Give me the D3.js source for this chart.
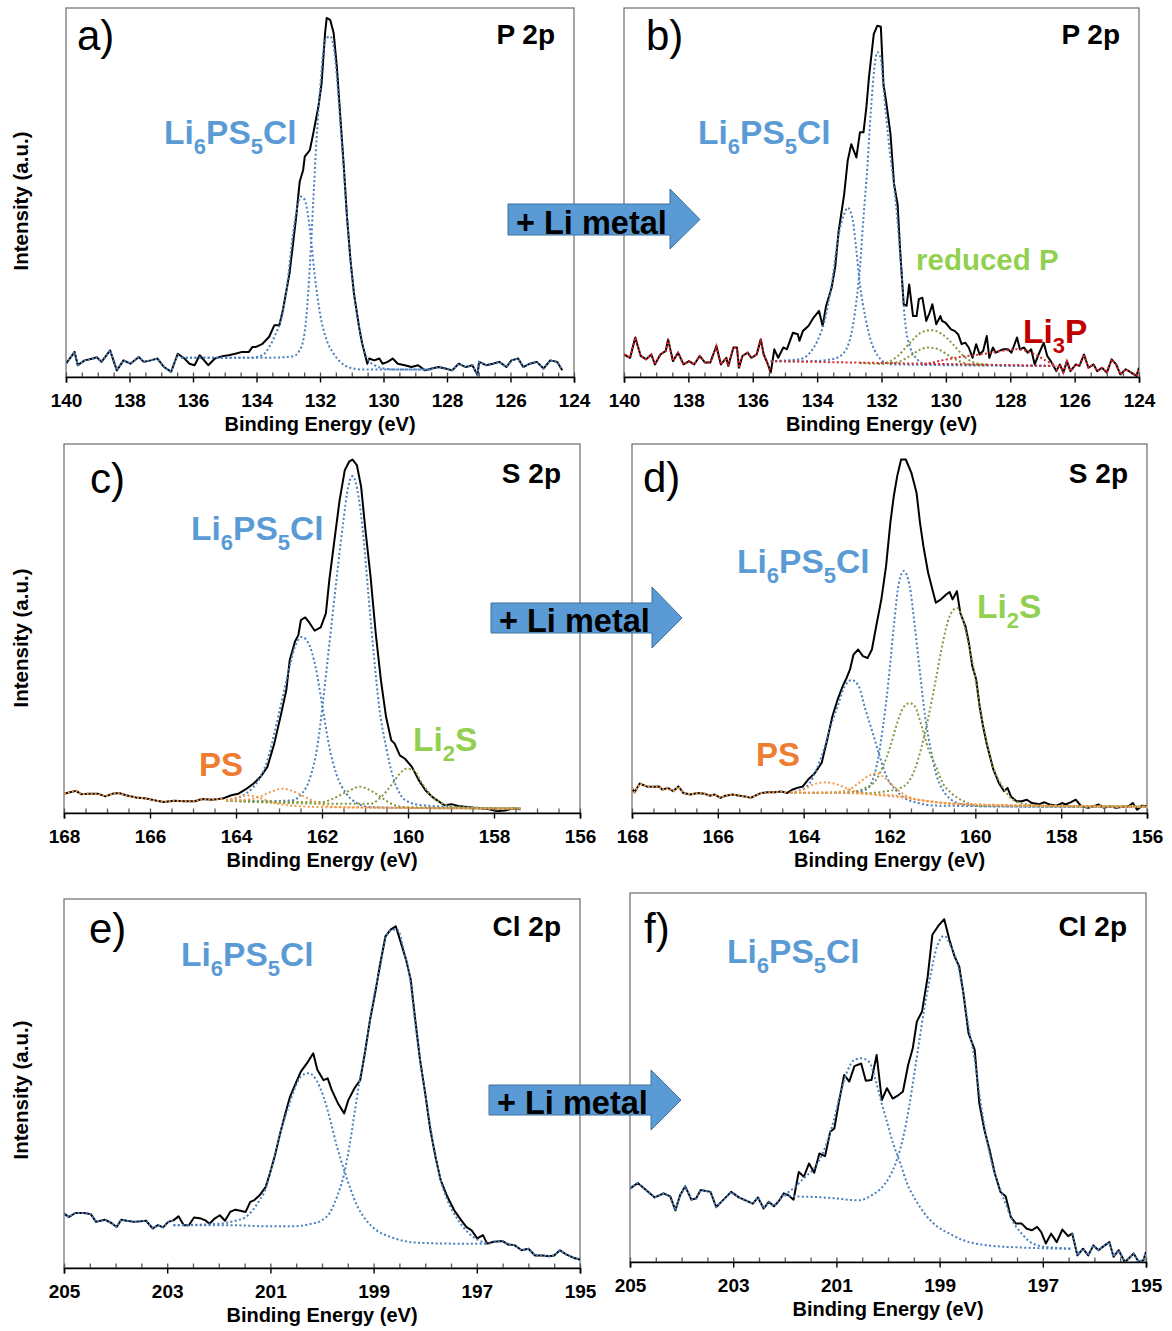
<!DOCTYPE html>
<html>
<head>
<meta charset="utf-8">
<script src="https://cdn.jsdelivr.net/npm/d3@7"></script>
<style>
    body { margin: 0; background: #fff; }
    svg text { font-family: "Liberation Sans", Arial, sans-serif; }
</style>
</head>
<body>
<svg id="chart" width="1172" height="1331"></svg>
<script>
// Values: [binding energy (eV), intensity in % of frame height]

// a) P 2p, pristine
var aMeasured = [[140.00,3.6],[139.73,6.8],[139.63,3.2],[139.41,4.5],[139.15,5.0],[139.04,5.4],[138.88,4.1],[138.61,7.2],[138.40,1.8],[138.19,4.5],[137.97,3.6],[137.71,5.4],[137.55,4.1],[137.33,4.5],[137.12,5.0],[136.91,2.7],[136.69,1.4],[136.48,6.3],[136.27,5.0],[136.11,3.6],[135.95,3.2],[135.79,5.9],[135.52,3.2],[135.31,5.0],[135.09,5.6],[134.88,5.9],[134.67,6.3],[134.45,6.8],[134.24,6.8],[134.13,8.1],[134.03,8.1],[133.81,9.0],[133.60,10.9],[133.44,14.0],[133.28,14.0],[133.17,18.1],[132.96,28.1],[132.75,43.4],[132.64,52.9],[132.53,56.1],[132.48,59.7],[132.32,61.5],[132.21,66.1],[132.05,73.3],[131.95,79.6],[131.84,93.2],[131.79,97.3],[131.68,96.8],[131.57,93.2],[131.47,84.2],[131.36,70.6],[131.25,57.0],[131.15,43.4],[131.04,31.7],[130.93,22.6],[130.77,13.6],[130.67,9.0],[130.51,3.6],[130.45,5.0],[130.29,4.5],[130.13,5.0],[130.03,3.6],[129.87,4.1],[129.71,5.0],[129.55,3.6],[129.33,3.2],[129.12,2.7],[128.91,3.2],[128.69,1.8],[128.48,2.3],[128.27,2.7],[128.05,2.3],[127.84,1.8],[127.63,3.6],[127.41,2.7],[127.20,3.2],[127.04,0.5],[126.99,4.1],[126.77,3.2],[126.56,3.6],[126.35,4.1],[126.13,2.7],[125.97,4.5],[125.76,5.0],[125.60,2.7],[125.39,3.6],[125.17,4.1],[124.96,2.3],[124.75,4.5],[124.53,4.1],[124.37,1.8]];
var aFitMain = [[136.37,5.2],[133.81,5.2],[133.28,5.3],[132.85,5.6],[132.59,8.1],[132.43,16.3],[132.32,29.9],[132.21,48.0],[132.11,64.3],[132.00,77.8],[131.89,88.7],[131.79,91.9],[131.68,92.3],[131.57,89.6],[131.47,81.4],[131.36,68.8],[131.25,56.1],[131.15,43.4],[131.04,31.7],[130.93,22.6],[130.77,13.6],[130.67,9.0],[130.51,5.0],[130.29,3.2],[129.97,2.3],[129.55,2.0],[128.48,2.0]];
var aFitShoulder = [[136.37,5.2],[134.24,5.2],[133.81,5.9],[133.60,8.1],[133.39,11.8],[133.23,15.4],[133.07,22.6],[132.85,38.9],[132.69,47.1],[132.59,48.9],[132.48,48.0],[132.37,43.4],[132.27,36.2],[132.16,27.1],[132.00,17.2],[131.79,10.0],[131.57,6.3],[131.36,4.1],[131.04,2.5],[130.61,2.0],[128.48,2.0]];

// b) P 2p, after Li metal
var bMeasured = [[140.00,6.1],[139.81,5.2],[139.65,10.7],[139.48,5.7],[139.31,4.8],[139.15,6.1],[139.04,3.4],[138.87,6.1],[138.70,7.1],[138.63,10.2],[138.48,4.3],[138.32,6.6],[138.15,3.4],[137.98,4.3],[137.82,3.4],[137.65,5.7],[137.48,3.9],[137.32,3.9],[137.13,8.4],[136.99,3.4],[136.82,5.2],[136.76,3.0],[136.60,8.0],[136.49,8.0],[136.43,2.5],[136.32,5.7],[136.16,6.6],[136.04,5.2],[135.88,6.1],[135.75,10.2],[135.66,6.1],[135.55,3.9],[135.44,1.2],[135.33,7.5],[135.21,5.2],[135.05,8.0],[134.94,7.5],[134.75,12.0],[134.60,11.6],[134.55,9.8],[134.44,12.5],[134.27,13.8],[134.11,16.1],[133.94,17.9],[133.83,13.8],[133.72,19.3],[133.55,24.2],[133.44,29.7],[133.33,39.6],[133.16,49.5],[133.05,58.6],[132.94,63.1],[132.78,59.5],[132.67,66.3],[132.56,66.3],[132.47,73.1],[132.39,81.2],[132.24,92.9],[132.13,95.2],[132.02,94.9],[131.94,79.4],[131.86,74.9],[131.72,65.8],[131.61,52.3],[131.50,46.8],[131.42,34.2],[131.31,19.7],[131.22,19.3],[131.14,25.1],[131.02,16.5],[130.91,16.5],[130.84,21.1],[130.73,21.5],[130.61,15.2],[130.50,17.5],[130.42,19.7],[130.30,14.3],[130.17,16.5],[130.12,15.2],[130.01,14.7],[129.84,12.9],[129.73,12.5],[129.62,11.6],[129.51,8.9],[129.40,9.3],[129.29,8.0],[129.17,5.2],[129.06,8.9],[128.95,6.1],[128.84,7.1],[128.73,11.1],[128.65,5.2],[128.54,8.0],[128.45,6.6],[128.34,7.1],[128.23,7.5],[128.07,7.5],[127.96,6.6],[127.79,10.7],[127.70,7.5],[127.57,8.0],[127.46,6.6],[127.35,7.5],[127.24,3.4],[127.12,6.1],[126.96,9.3],[126.85,5.7],[126.74,4.3],[126.57,1.6],[126.46,3.4],[126.35,1.2],[126.24,4.3],[126.13,1.6],[125.96,3.4],[125.85,3.0],[125.71,6.1],[125.57,2.5],[125.41,3.4],[125.30,1.6],[125.15,2.5],[125.00,1.2],[124.85,4.8],[124.71,3.4],[124.58,0.7],[124.41,2.1],[124.24,1.2],[124.08,0.3],[124.00,2.5]];
var bFitMain = [[135.44,4.3],[134.22,4.3],[133.55,4.8],[133.22,6.1],[132.94,11.6],[132.78,20.6],[132.67,29.7],[132.56,43.2],[132.44,56.8],[132.33,72.2],[132.22,83.9],[132.13,88.0],[132.02,86.2],[131.94,78.5],[131.78,64.0],[131.56,47.7],[131.39,29.7],[131.28,16.1],[131.11,8.0],[130.89,4.8],[130.67,3.6],[129.89,3.4],[126.57,3.0]];
var bFitShoulder = [[135.44,4.3],[134.55,4.8],[134.22,6.6],[133.99,9.8],[133.77,15.2],[133.55,25.1],[133.33,38.7],[133.16,44.1],[133.05,45.9],[132.89,42.3],[132.78,34.2],[132.67,25.1],[132.50,16.1],[132.33,9.8],[132.11,5.7],[131.89,3.9],[131.56,3.4],[126.57,3.0]];
var bFitReducedA = [[132.67,3.8],[132.00,3.6],[131.56,5.2],[131.11,9.3],[130.78,12.0],[130.45,12.7],[130.12,11.6],[129.78,8.9],[129.45,5.7],[129.12,3.9],[128.68,3.3]];
var bFitReducedB = [[132.11,3.6],[131.56,3.9],[131.11,5.7],[130.78,7.5],[130.56,8.0],[130.23,7.5],[129.89,5.7],[129.56,4.2],[129.23,3.4],[128.68,3.3]];
var bFitBackground = [[135.44,4.3],[126.57,3.0]];
var bFitLi3P = [[130.67,3.4],[130.12,4.5],[129.56,5.4],[128.79,6.3],[128.23,7.1],[127.79,7.5],[127.35,6.6],[126.90,4.5],[126.57,3.0]];

// c) S 2p, pristine
var cMeasured = [[168.00,5.2],[167.84,5.7],[167.72,6.0],[167.60,5.1],[167.44,5.2],[167.20,5.2],[167.04,4.5],[166.88,5.2],[166.72,5.4],[166.56,4.8],[166.32,4.2],[166.08,3.9],[165.84,3.3],[165.68,3.0],[165.44,3.3],[165.20,3.2],[164.96,3.2],[164.79,3.8],[164.55,3.6],[164.31,3.9],[164.11,4.8],[163.95,5.2],[163.75,6.6],[163.59,8.0],[163.43,9.8],[163.27,12.5],[163.11,18.8],[162.95,26.9],[162.83,33.3],[162.75,41.4],[162.63,46.4],[162.55,48.2],[162.49,52.3],[162.39,53.0],[162.29,51.5],[162.17,49.4],[162.03,50.3],[161.91,54.1],[161.83,63.1],[161.71,74.0],[161.59,84.8],[161.47,92.9],[161.37,95.2],[161.29,95.8],[161.19,94.3],[161.09,88.4],[160.99,76.7],[160.87,64.0],[160.75,48.6],[160.63,36.0],[160.51,26.0],[160.39,19.7],[160.31,18.8],[160.19,15.6],[160.07,14.7],[159.91,12.5],[159.75,8.9],[159.59,6.1],[159.43,4.3],[159.27,3.0],[159.15,2.1],[158.99,2.4],[158.79,1.8],[158.46,1.4],[158.14,1.1],[157.94,0.5],[157.74,0.7],[157.58,1.2],[157.38,1.0]];
var cFitMain = [[164.23,3.4],[163.27,3.2],[162.71,3.4],[162.47,5.2],[162.27,9.8],[162.11,17.9],[161.99,28.8],[161.87,41.4],[161.75,54.1],[161.63,66.7],[161.51,78.5],[161.39,88.4],[161.29,91.3],[161.15,85.7],[161.03,74.0],[160.91,57.7],[160.79,42.3],[160.67,28.8],[160.51,17.9],[160.35,9.8],[160.19,5.2],[159.99,3.0],[159.67,2.1],[158.87,1.6],[157.38,1.2]];
var cFitShoulder = [[164.23,3.4],[163.83,4.8],[163.59,7.1],[163.43,9.8],[163.27,14.3],[163.11,21.5],[162.95,29.7],[162.79,37.8],[162.63,45.0],[162.47,47.7],[162.31,45.9],[162.15,39.6],[161.99,28.8],[161.83,17.9],[161.67,10.7],[161.43,5.2],[161.19,2.7],[160.87,1.6],[160.07,1.4],[157.38,1.2]];
var cFitPSa = [[164.23,3.4],[163.75,3.6],[163.43,4.5],[163.19,5.7],[162.91,6.6],[162.63,5.7],[162.39,4.3],[162.15,3.0],[161.83,1.8],[161.51,1.6],[157.38,1.2]];
var cFitPSb = [[164.23,3.4],[163.99,4.2],[163.75,4.8],[163.51,4.3],[163.19,3.0],[162.79,2.1],[161.99,1.6],[157.38,1.2]];
var cFitLi2Sa = [[164.23,3.3],[161.67,2.5],[160.87,2.5],[160.63,4.3],[160.39,7.5],[160.19,10.7],[160.03,12.0],[159.87,11.6],[159.67,8.0],[159.43,4.3],[159.19,2.5],[158.87,1.6],[157.38,1.2]];
var cFitLi2Sb = [[164.23,3.3],[162.47,3.0],[161.99,3.0],[161.67,4.3],[161.43,5.7],[161.11,7.1],[160.87,6.1],[160.63,4.3],[160.39,2.5],[160.07,1.6],[157.38,1.2]];

// d) S 2p, after Li metal
var dMeasured = [[168.00,6.8],[167.94,5.6],[167.82,8.0],[167.66,7.2],[167.49,7.1],[167.37,7.2],[167.29,6.3],[167.17,6.8],[167.04,5.9],[166.92,7.2],[166.80,5.4],[166.64,5.0],[166.47,5.4],[166.31,5.2],[166.19,4.7],[166.07,5.0],[165.94,4.1],[165.82,4.7],[165.66,5.0],[165.49,4.7],[165.37,4.5],[165.23,4.1],[165.13,4.7],[165.00,5.4],[164.84,5.6],[164.68,5.6],[164.51,5.8],[164.39,5.4],[164.27,6.3],[164.15,6.8],[164.02,7.2],[163.90,9.0],[163.74,10.8],[163.58,13.6],[163.45,19.9],[163.33,26.2],[163.21,30.7],[163.09,34.4],[163.00,36.6],[162.92,38.9],[162.84,42.9],[162.73,44.3],[162.62,42.5],[162.51,42.0],[162.41,44.3],[162.31,50.6],[162.19,57.9],[162.08,66.9],[161.98,78.7],[161.90,85.9],[161.82,91.3],[161.73,95.8],[161.62,95.8],[161.49,92.2],[161.37,86.8],[161.29,78.7],[161.21,72.3],[161.10,65.1],[161.00,60.6],[160.92,57.0],[160.80,57.9],[160.68,59.2],[160.60,59.9],[160.53,57.9],[160.43,60.1],[160.35,54.2],[160.23,50.6],[160.15,46.1],[160.07,39.8],[159.98,36.2],[159.90,28.9],[159.82,23.5],[159.74,19.0],[159.66,15.4],[159.58,11.8],[159.45,8.1],[159.33,5.9],[159.25,6.8],[159.17,4.5],[159.04,3.2],[158.92,3.2],[158.80,3.6],[158.68,2.7],[158.51,2.4],[158.39,2.9],[158.27,2.3],[158.11,2.0],[157.98,2.7],[157.90,2.3],[157.78,2.9],[157.66,3.6],[157.53,1.8],[157.37,1.4],[157.25,1.8],[157.13,2.3],[157.00,1.4],[156.88,1.8],[156.72,1.4],[156.60,1.6],[156.43,1.8],[156.33,2.7],[156.23,0.9],[156.11,2.0],[156.00,1.8]];
var dFitMain = [[164.31,5.4],[163.37,5.4],[162.88,5.6],[162.56,6.3],[162.39,9.0],[162.27,14.5],[162.15,23.5],[162.02,36.2],[161.90,50.6],[161.78,62.4],[161.67,65.6],[161.53,61.5],[161.41,50.6],[161.29,38.0],[161.17,26.2],[161.04,17.2],[160.92,10.8],[160.76,6.3],[160.56,3.6],[160.27,2.3],[159.70,1.8],[156.00,1.6]];
var dFitShoulder = [[164.31,5.4],[164.07,6.3],[163.86,8.1],[163.70,11.8],[163.53,17.2],[163.37,23.5],[163.21,28.9],[163.04,34.4],[162.88,36.0],[162.72,34.4],[162.56,28.0],[162.39,21.7],[162.23,15.4],[162.07,9.9],[161.86,6.3],[161.66,4.1],[161.33,2.7],[160.92,2.0],[156.00,1.6]];
var dFitLi2Sa = [[164.31,5.4],[162.56,5.4],[162.07,5.9],[161.74,6.8],[161.58,8.1],[161.41,11.8],[161.25,18.1],[161.09,26.2],[160.92,36.2],[160.76,46.1],[160.60,53.3],[160.43,55.6],[160.27,51.5],[160.15,45.2],[160.02,38.0],[159.90,28.9],[159.78,21.7],[159.66,15.4],[159.53,10.8],[159.37,7.2],[159.21,4.5],[158.96,2.7],[158.47,2.0],[156.00,1.8]];
var dFitLi2Sb = [[164.31,5.4],[162.96,5.6],[162.56,6.8],[162.31,9.0],[162.15,12.7],[161.98,18.1],[161.82,24.4],[161.66,28.9],[161.53,29.8],[161.41,28.9],[161.25,23.5],[161.09,17.2],[160.92,12.7],[160.76,8.1],[160.56,5.4],[160.27,3.2],[159.94,2.0],[156.00,1.7]];
var dFitPSa = [[164.31,5.4],[163.37,5.6],[162.96,6.3],[162.72,8.1],[162.51,9.9],[162.31,10.8],[162.11,9.5],[161.90,7.2],[161.66,5.0],[161.41,3.8],[161.09,3.2],[160.51,2.5],[156.00,1.7]];
var dFitPSb = [[164.31,5.6],[164.02,6.3],[163.78,7.7],[163.49,8.3],[163.21,7.7],[162.96,6.5],[162.72,5.6],[162.39,5.0],[161.74,4.3],[161.09,3.2],[160.11,2.3],[156.00,1.7]];
var dFitBackground = [[164.31,5.6],[162.56,5.2],[161.74,4.5],[161.33,3.6],[160.92,2.9],[160.11,2.3],[159.29,2.0],[156.00,1.7]];

// e) Cl 2p, pristine
var eMeasured = [[205.00,14.8],[204.91,13.8],[204.78,14.9],[204.61,14.9],[204.48,14.6],[204.38,12.5],[204.21,13.1],[204.08,12.2],[203.98,11.1],[203.89,13.1],[203.78,12.8],[203.64,12.5],[203.41,12.8],[203.28,10.7],[203.18,11.6],[203.08,11.0],[202.98,12.5],[202.88,12.9],[202.78,14.0],[202.68,11.6],[202.58,11.6],[202.48,13.7],[202.34,13.4],[202.26,12.9],[202.18,12.0],[202.08,13.4],[201.98,14.3],[201.88,12.8],[201.78,15.2],[201.68,15.8],[201.58,15.5],[201.48,15.2],[201.39,17.9],[201.31,18.4],[201.21,19.7],[201.09,22.0],[201.01,25.6],[200.91,30.6],[200.81,36.5],[200.71,41.9],[200.62,46.4],[200.51,50.0],[200.41,53.2],[200.29,55.5],[200.17,58.2],[200.09,53.7],[199.97,50.9],[199.89,51.4],[199.81,48.2],[199.69,44.6],[199.57,41.9],[199.49,45.5],[199.37,48.7],[199.26,50.9],[199.17,58.2],[199.07,67.2],[198.97,74.5],[198.87,82.6],[198.77,89.9],[198.67,91.7],[198.57,92.6],[198.47,88.1],[198.37,83.5],[198.28,78.1],[198.20,68.1],[198.10,56.4],[198.00,47.3],[197.90,37.4],[197.80,30.1],[197.70,23.8],[197.57,19.3],[197.44,15.7],[197.30,12.9],[197.20,11.1],[197.10,10.2],[196.99,8.0],[196.88,8.9],[196.80,6.6],[196.67,7.1],[196.50,7.3],[196.40,6.4],[196.27,6.2],[196.13,4.8],[196.00,5.2],[195.87,3.4],[195.73,3.4],[195.60,3.2],[195.50,3.4],[195.39,4.8],[195.27,3.7],[195.13,2.8],[195.00,2.3]];
var eFitShoulder = [[202.88,11.6],[202.28,11.8],[201.88,12.2],[201.68,12.8],[201.48,13.8],[201.34,15.7],[201.21,18.4],[201.09,21.5],[201.01,25.6],[200.91,30.6],[200.81,36.5],[200.67,42.8],[200.54,48.2],[200.41,51.9],[200.26,52.8],[200.11,50.9],[199.97,46.4],[199.84,40.1],[199.71,32.9],[199.57,26.5],[199.44,21.1],[199.31,16.6],[199.14,12.9],[198.94,10.2],[198.67,8.4],[198.40,7.3],[198.07,6.8],[197.40,6.6],[196.80,6.6]];
var eFitMain = [[202.88,11.6],[201.74,11.6],[201.07,11.3],[200.54,11.3],[200.21,12.0],[200.01,12.9],[199.84,15.2],[199.71,19.3],[199.57,25.6],[199.47,32.9],[199.37,41.9],[199.27,50.9],[199.17,58.2],[199.07,67.2],[198.97,75.4],[198.87,81.7],[198.77,89.4],[198.64,91.7],[198.54,91.7],[198.40,85.3],[198.30,79.0],[198.20,67.2],[198.10,56.4],[198.00,47.3],[197.90,38.3],[197.80,30.1],[197.70,23.8],[197.57,18.4],[197.40,13.8],[197.24,10.7],[197.07,8.4],[196.90,7.1],[196.74,6.6]];

// f) Cl 2p, after Li metal
var fMeasured = [[205.00,19.9],[204.85,21.4],[204.69,19.5],[204.52,17.5],[204.35,18.6],[204.22,17.8],[204.12,14.0],[204.03,18.1],[203.93,20.5],[203.81,16.9],[203.72,17.2],[203.63,19.5],[203.44,19.0],[203.33,14.9],[203.23,16.3],[203.04,19.0],[202.89,17.5],[202.76,16.7],[202.62,15.8],[202.52,17.5],[202.41,14.5],[202.31,16.3],[202.21,15.1],[202.11,16.6],[202.02,18.6],[201.93,18.1],[201.83,16.9],[201.73,24.4],[201.63,23.1],[201.53,26.7],[201.43,24.2],[201.33,29.4],[201.22,28.7],[201.12,35.3],[201.04,36.2],[200.95,43.4],[200.85,50.7],[200.75,48.9],[200.65,53.1],[200.52,53.8],[200.43,49.1],[200.32,49.3],[200.22,56.1],[200.12,43.9],[200.02,47.1],[199.91,44.3],[199.82,45.0],[199.71,46.2],[199.61,53.4],[199.52,57.9],[199.44,65.2],[199.34,67.9],[199.23,77.4],[199.14,88.7],[199.03,91.0],[198.91,92.9],[198.81,87.3],[198.71,82.8],[198.62,80.1],[198.54,72.9],[198.44,62.0],[198.32,57.5],[198.23,43.0],[198.13,35.7],[198.03,30.3],[197.93,24.0],[197.82,19.0],[197.72,17.8],[197.62,12.2],[197.52,10.4],[197.41,10.4],[197.31,9.0],[197.21,8.6],[197.11,9.5],[197.03,8.1],[196.94,5.0],[196.84,7.7],[196.73,5.4],[196.62,8.8],[196.51,7.0],[196.43,7.7],[196.33,1.8],[196.22,3.6],[196.12,1.8],[196.02,4.5],[195.92,3.2],[195.82,4.3],[195.71,5.4],[195.63,1.4],[195.53,3.2],[195.41,0.0],[195.34,0.9],[195.24,2.3],[195.14,0.0],[195.05,0.5],[195.00,2.7]];
var fFitShoulder = [[202.01,18.1],[201.80,20.4],[201.60,23.1],[201.46,24.9],[201.33,27.6],[201.19,32.1],[201.05,38.5],[200.92,45.7],[200.78,52.0],[200.65,54.8],[200.52,55.2],[200.37,54.3],[200.24,49.3],[200.14,43.9],[200.03,38.5],[199.90,32.1],[199.76,26.7],[199.63,21.3],[199.46,16.7],[199.29,13.1],[199.08,10.0],[198.81,7.7],[198.54,5.9],[198.06,4.5],[197.38,3.9],[196.43,3.6]];
var fFitMain = [[202.01,18.1],[201.80,17.8],[201.39,17.6],[200.99,17.2],[200.58,16.7],[200.31,18.1],[200.14,19.9],[199.97,23.1],[199.83,27.6],[199.69,34.8],[199.59,42.1],[199.49,51.1],[199.39,60.2],[199.29,69.2],[199.18,77.4],[199.05,85.5],[198.91,88.4],[198.78,85.5],[198.64,80.1],[198.54,72.9],[198.44,63.8],[198.33,55.7],[198.23,45.7],[198.13,36.7],[198.03,29.4],[197.93,24.0],[197.82,19.5],[197.72,15.8],[197.59,11.3],[197.41,7.7],[197.24,5.4],[197.04,4.3],[196.70,3.8],[196.43,3.6]];

var BLUE = "#4a7ebf";
var GREEN = "#7f9a3c";
var ORANGE = "#f39a4a";
var RED = "#d9262b";

// layout of the six frames
var panels = [
    { tag: "a)", tagX: 77, tagY: 50, core: "P 2p", coreY: 44, L: 66, R: 574, T: 8, B: 377, xMax: 140, xMin: 124,
      measured: aMeasured, fits: [[aFitShoulder, BLUE], [aFitMain, BLUE]],
      outer: { color: BLUE, hi: 136.37, lo: 128.48 }, yTitle: 201 },
    { tag: "b)", tagX: 646, tagY: 50, core: "P 2p", coreY: 44, L: 624, R: 1139, T: 8, B: 377, xMax: 140, xMin: 124,
      measured: bMeasured, fits: [[bFitShoulder, BLUE], [bFitMain, BLUE], [bFitReducedA, GREEN], [bFitReducedB, GREEN], [bFitBackground, RED], [bFitLi3P, RED]],
      outer: { color: RED, hi: 135.44, lo: 126.57 } },
    { tag: "c)", tagX: 90, tagY: 493, core: "S 2p", coreY: 483, L: 64, R: 580, T: 444, B: 813, xMax: 168, xMin: 156,
      measured: cMeasured, fits: [[cFitShoulder, BLUE], [cFitMain, BLUE], [cFitLi2Sb, GREEN], [cFitLi2Sa, GREEN], [cFitPSb, ORANGE], [cFitPSa, ORANGE]],
      outer: { color: ORANGE, hi: 164.23, lo: 150 }, yTitle: 638 },
    { tag: "d)", tagX: 643, tagY: 492, core: "S 2p", coreY: 483, L: 632, R: 1147, T: 444, B: 813, xMax: 168, xMin: 156,
      measured: dMeasured, fits: [[dFitShoulder, BLUE], [dFitMain, BLUE], [dFitLi2Sb, GREEN], [dFitLi2Sa, GREEN], [dFitBackground, ORANGE], [dFitPSb, ORANGE], [dFitPSa, ORANGE]],
      outer: { color: ORANGE, hi: 164.31, lo: 150 } },
    { tag: "e)", tagX: 89, tagY: 943, core: "Cl 2p", coreY: 936, L: 64, R: 580, T: 899, B: 1268, xMax: 205, xMin: 195,
      measured: eMeasured, fits: [[eFitShoulder, BLUE], [eFitMain, BLUE]],
      outer: { color: BLUE, hi: 202.88, lo: 196.74 }, yTitle: 1090 },
    { tag: "f)", tagX: 644, tagY: 943, core: "Cl 2p", coreY: 936, L: 630, R: 1146, T: 893, B: 1262, xMax: 205, xMin: 195,
      measured: fMeasured, fits: [[fFitShoulder, BLUE], [fFitMain, BLUE]],
      outer: { color: BLUE, hi: 202.01, lo: 196.43 } }
];

var formula = [["Li", 0], ["6", 1], ["PS", 0], ["5", 1], ["Cl", 0]];
var labels = [
    { x: 164, y: 144, parts: formula, color: "#5b9bd5", size: 33.5 },
    { x: 698, y: 144, parts: formula, color: "#5b9bd5", size: 33.5 },
    { x: 916, y: 270, parts: [["reduced P", 0]], color: "#92d050", size: 29.5 },
    { x: 1023, y: 343, parts: [["Li", 0], ["3", 1], ["P", 0]], color: "#c00000", size: 33.5 },
    { x: 191, y: 540, parts: formula, color: "#5b9bd5", size: 33.5 },
    { x: 199, y: 776, parts: [["PS", 0]], color: "#ed7d31", size: 33 },
    { x: 413, y: 751, parts: [["Li", 0], ["2", 1], ["S", 0]], color: "#92d050", size: 33.5 },
    { x: 737, y: 573, parts: formula, color: "#5b9bd5", size: 33.5 },
    { x: 756, y: 766, parts: [["PS", 0]], color: "#ed7d31", size: 33 },
    { x: 977, y: 618, parts: [["Li", 0], ["2", 1], ["S", 0]], color: "#92d050", size: 33.5 },
    { x: 181, y: 966, parts: formula, color: "#5b9bd5", size: 33.5 },
    { x: 727, y: 963, parts: formula, color: "#5b9bd5", size: 33.5 }
];

var arrows = [
    { x0: 508, x1: 670, tip: 700, y0: 204, y1: 235, h0: 189, h1: 249 },
    { x0: 491, x1: 652, tip: 682, y0: 603, y1: 633, h0: 587, h1: 648 },
    { x0: 489, x1: 651, tip: 681, y0: 1085, y1: 1115, h0: 1070, h1: 1130 }
];

var svg = d3.select("#chart");

var drawPanel = function(p, i) {
    var x = d3.scaleLinear().domain([p.xMax, p.xMin]).range([p.L, p.R]);
    var y = d3.scaleLinear().domain([0, 100]).range([p.B, p.T]);
    var g = svg.append("g").classed("panel", true);

    g.append("clipPath").attr("id", "clip" + i)
        .append("rect")
        .attr("x", p.L).attr("y", p.T)
        .attr("width", p.R - p.L).attr("height", p.B - p.T);

    g.append("rect")
        .attr("x", p.L).attr("y", p.T)
        .attr("width", p.R - p.L).attr("height", p.B - p.T)
        .attr("fill", "none")
        .attr("stroke", "#6b6b6b")
        .attr("stroke-width", 1.2);

    var plot = g.append("g").attr("clip-path", "url(#clip" + i + ")");

    var raw = d3.line()
        .x(function(d) { return x(d[0]); })
        .y(function(d) { return y(d[1]); });
    var smooth = d3.line()
        .x(function(d) { return x(d[0]); })
        .y(function(d) { return y(d[1]); })
        .curve(d3.curveMonotoneX);

    plot.append("path")
        .attr("d", raw(p.measured))
        .attr("fill", "none")
        .attr("stroke", "#000")
        .attr("stroke-width", 2)
        .attr("stroke-linejoin", "round");

    // outside the fit window the fit simply follows the measured points
    var left = p.measured.filter(function(d) { return d[0] >= p.outer.hi; });
    var right = p.measured.filter(function(d) { return d[0] <= p.outer.lo; });
    [left, right].forEach(function(part) {
        if (part.length < 2) return;
        plot.append("path")
            .attr("d", raw(part))
            .attr("fill", "none")
            .attr("stroke", p.outer.color)
            .attr("stroke-width", 2)
            .attr("stroke-dasharray", "2,2");
    });

    p.fits.forEach(function(f) {
        plot.append("path")
            .attr("d", smooth(f[0]))
            .attr("fill", "none")
            .attr("stroke", f[1])
            .attr("stroke-width", 2)
            .attr("stroke-dasharray", "2,2.4");
    });

    // axis: labelled majors every 2 eV, minor ticks every 0.5 eV pointing up
    var majors = d3.range(p.xMin, p.xMax + 0.01, 2);
    var minors = d3.range(p.xMin, p.xMax + 0.01, 0.5);

    g.append("g")
        .attr("transform", "translate(0," + p.B + ")")
        .call(d3.axisTop(x).tickValues(minors).tickSize(4.5).tickFormat(""))
        .call(function(a) { a.select(".domain").remove(); })
        .selectAll("line").attr("stroke", "#555").attr("stroke-width", 1.3);

    var ax = g.append("g")
        .attr("transform", "translate(0," + p.B + ")")
        .call(d3.axisBottom(x).tickValues(majors).tickSize(5.5).tickPadding(11).tickFormat(d3.format("d")));
    ax.select(".domain").attr("stroke", "#000").attr("stroke-width", 1.6);
    ax.selectAll("line").attr("stroke", "#000").attr("stroke-width", 1.4);
    ax.selectAll("text")
        .attr("font-family", "Liberation Sans, Arial, sans-serif")
        .attr("font-size", 19)
        .attr("font-weight", "bold")
        .attr("fill", "#000");

    g.append("text")
        .attr("x", (p.L + p.R) / 2)
        .attr("y", p.B + 54)
        .attr("text-anchor", "middle")
        .attr("font-size", 20)
        .attr("font-weight", "bold")
        .text("Binding Energy (eV)");

    g.append("text")
        .attr("x", p.tagX).attr("y", p.tagY)
        .attr("font-size", 42)
        .text(p.tag);

    g.append("text")
        .attr("x", p.R - 19).attr("y", p.coreY)
        .attr("text-anchor", "end")
        .attr("font-size", 28)
        .attr("font-weight", "bold")
        .text(p.core);

    if (p.yTitle) {
        g.append("text")
            .attr("transform", "translate(28," + p.yTitle + ") rotate(-90)")
            .attr("text-anchor", "middle")
            .attr("font-size", 20.5)
            .attr("font-weight", "bold")
            .text("Intensity (a.u.)");
    }
};

var drawLabel = function(l) {
    var t = svg.append("text")
        .attr("x", l.x).attr("y", l.y)
        .attr("fill", l.color)
        .attr("font-weight", "bold")
        .attr("font-size", l.size);
    var shift = 0;
    l.parts.forEach(function(part) {
        var target = part[1] ? Math.round(l.size * 0.3) : 0;
        t.append("tspan")
            .attr("font-size", part[1] ? Math.round(l.size * 0.66) : l.size)
            .attr("dy", target - shift)
            .text(part[0]);
        shift = target;
    });
};

var drawArrow = function(a) {
    var mid = (a.y0 + a.y1) / 2;
    var pts = [[a.x0, a.y0], [a.x1, a.y0], [a.x1, a.h0], [a.tip, mid], [a.x1, a.h1], [a.x1, a.y1], [a.x0, a.y1]];
    svg.append("path")
        .attr("d", d3.line()(pts) + "Z")
        .attr("fill", "#5b9bd5")
        .attr("stroke", "#41719c")
        .attr("stroke-width", 1);
    svg.append("text")
        .attr("x", a.x0 + 8)
        .attr("y", a.y1 - 1)
        .attr("font-size", 32.5)
        .attr("font-weight", "bold")
        .attr("fill", "#000")
        .text("+ Li metal");
};

panels.forEach(drawPanel);
labels.forEach(drawLabel);
arrows.forEach(drawArrow);
</script>
</body>
</html>
